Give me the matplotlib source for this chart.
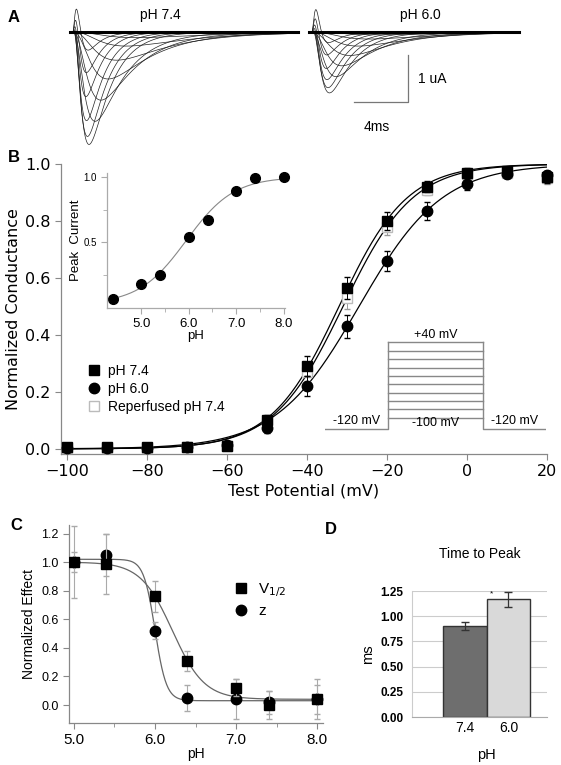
import numpy as np
import matplotlib.pyplot as plt
from matplotlib.lines import Line2D

plt.rcParams['font.family'] = ['Liberation Sans', 'DejaVu Sans']

# ---- A: current traces (model parameters)
amp74 = [0.12, 0.3, 0.6, 1.0, 1.45, 1.9, 2.4, 2.25, 1.95, 1.5, 1.05, 0.6]
tm74 = [2.2, 1.8, 1.45, 1.15, 0.9, 0.7, 0.5, 0.44, 0.4, 0.36, 0.33, 0.3]
th74 = [5.5, 4.8, 4.0, 3.3, 2.7, 2.2, 1.6, 1.45, 1.3, 1.15, 1.05, 0.95]
spike74 = [0, 0, 0, 0, 0, 0, 0.08, 0.18, 0.3, 0.45, 0.62, 0.8]
amp60 = [0.06, 0.15, 0.3, 0.5, 0.72, 0.95, 1.3, 1.2, 1.05, 0.85, 0.6, 0.35]
tm60 = [2.4, 2.0, 1.6, 1.3, 1.0, 0.8, 0.55, 0.5, 0.45, 0.4, 0.36, 0.33]
th60 = [5.5, 4.8, 4.0, 3.3, 2.7, 2.2, 1.7, 1.5, 1.35, 1.2, 1.1, 1.0]
spike60 = [0, 0, 0, 0, 0, 0, 0.06, 0.14, 0.24, 0.36, 0.5, 0.65]

# ---- B: normalized conductance vs test potential
volts = [-100, -90, -80, -70, -60, -50, -40, -30, -20, -10, 0, 10, 20]
g74 = [0.005, 0.005, 0.005, 0.008, 0.01, 0.10, 0.29, 0.565, 0.80, 0.92, 0.97, 0.975, 0.955]
g74_err = [0.004, 0.004, 0.004, 0.004, 0.008, 0.02, 0.035, 0.04, 0.03, 0.02, 0.015, 0.015, 0.02]
g60 = [0.003, 0.003, 0.003, 0.005, 0.015, 0.075, 0.22, 0.43, 0.66, 0.835, 0.93, 0.965, 0.96]
g60_err = [0.004, 0.004, 0.004, 0.004, 0.01, 0.02, 0.035, 0.04, 0.035, 0.03, 0.02, 0.015, 0.015]
grep = [0.004, 0.004, 0.004, 0.006, 0.01, 0.09, 0.27, 0.53, 0.78, 0.91, 0.965, 0.97, 0.95]
grep_err = [0.004, 0.004, 0.004, 0.004, 0.008, 0.02, 0.03, 0.04, 0.03, 0.02, 0.015, 0.015, 0.02]
# Boltzmann fits (V1/2, slope)
fit74 = (-32.0, 8.5)
fit60 = (-27.0, 10.4)
fitrep = (-31.0, 8.7)

# inset: peak current vs pH
ph_in = [4.4, 5.0, 5.4, 6.0, 6.4, 7.0, 7.4, 8.0]
peak_in = [0.07, 0.18, 0.25, 0.545, 0.67, 0.89, 0.99, 1.0]
fit_in = (5.95, 0.5, 0.03)  # pKa, slope, bottom

# voltage protocol
prot_steps = [-100, -84, -69, -53, -38, -22, -7, 9, 24, 40]

# ---- C: normalized effect vs pH
ph_c = [5.0, 5.4, 6.0, 6.4, 7.0, 7.4, 8.0]
v12 = [1.0, 0.99, 0.76, 0.31, 0.12, 0.0, 0.04]
v12_err = [0.25, 0.21, 0.11, 0.07, 0.06, 0.10, 0.14]
zval = [1.0, 1.05, 0.52, 0.05, 0.04, 0.02, 0.04]
z_err = [0.07, 0.15, 0.06, 0.09, 0.14, 0.08, 0.10]
fit_v12 = (6.215, 0.196, 1.0, 0.04)  # pK, slope, top, bottom
fit_z = (6.0, 0.07, 1.02, 0.03)

# ---- D: time to peak
ph_d = ['7.4', '6.0']
ttp = [0.90, 1.17]
ttp_err = [0.04, 0.075]

W, H = 561, 765
fig = plt.figure(figsize=(W / 100, H / 100), dpi=100)


def px_axes(l, t, r, b):
    return fig.add_axes([l / W, 1 - b / H, (r - l) / W, (b - t) / H])


def gray_spines(ax, col='#888888'):
    for s in ['top', 'right']:
        ax.spines[s].set_visible(False)
    for s in ['left', 'bottom']:
        ax.spines[s].set_color(col)
        ax.spines[s].set_linewidth(0.9)
    ax.tick_params(color=col, direction='out', length=4, width=0.8)


# ================= A
axA = px_axes(60, 0, 548, 150)
axA.set_xlim(0, 36.15)
axA.set_ylim(-2.51, 0.68)
axA.axis('off')


def draw_family(ax, t0, dur, amps, tms, ths, spikes):
    t = np.linspace(0, dur, 900)
    for a, tm, th, s in zip(amps, tms, ths, spikes):
        g = (1 - np.exp(-t / tm)) ** 3 * np.exp(-t / th)
        i = -a * g / g.max() + s * (t / 0.35) ** 2 * np.exp(2 * (1 - t / 0.35))
        ax.plot(t0 + t, i, color='#222222', lw=0.5)
    ax.plot([t0 - 0.2, t0 + dur], [0, 0], color='black', lw=2.2)


draw_family(axA, 0.96, 16.7, amp74, tm74, th74, spike74)
draw_family(axA, 18.67, 15.3, amp60, tm60, th60, spike60)
axA.plot([21.78, 25.78, 25.78], [-1.49, -1.49, -0.49], color='#777777', lw=0.9)
axA.text(26.5, -1.0, '1 uA', fontsize=10, va='center')
axA.text(23.5, -2.02, '4ms', fontsize=10, ha='center', va='center')
axA.text(7.4, 0.36, 'pH 7.4', fontsize=10, ha='center', va='center')
axA.text(26.7, 0.36, 'pH 6.0', fontsize=10, ha='center', va='center')
fig.text(8 / W, 1 - 18 / H, 'A', fontsize=12, fontweight='bold', va='center')

# ================= B
axB = px_axes(61, 164, 547, 454)
gray_spines(axB)
axB.set_xlim(-101.5, 20)
axB.set_ylim(-0.018, 1.0)
vv = np.linspace(-100, 20, 300)
for v50, k in [fit74, fitrep, fit60]:
    axB.plot(vv, 1 / (1 + np.exp(-(vv - v50) / k)), color='black', lw=0.9)
axB.errorbar(volts, grep, yerr=grep_err, fmt='s', ms=7, mfc='white', mec='#bbbbbb',
             ecolor='#999999', elinewidth=0.7, capsize=2, clip_on=False, zorder=3)
axB.errorbar(volts, g60, yerr=g60_err, fmt='o', ms=7.5, color='black',
             elinewidth=0.7, capsize=2, clip_on=False, zorder=4)
axB.errorbar(volts, g74, yerr=g74_err, fmt='s', ms=7, color='black',
             elinewidth=0.7, capsize=2, clip_on=False, zorder=5)
axB.set_xticks([-100, -80, -60, -40, -20, 0, 20])
axB.set_yticks([0.0, 0.2, 0.4, 0.6, 0.8, 1.0])
axB.set_yticklabels(['0.0', '0.2', '0.4', '0.6', '0.8', '1.0'])
for lab in axB.get_xticklabels() + axB.get_yticklabels():
    lab.set_family('DejaVu Sans')
    lab.set_fontsize(11.5)
axB.set_xlabel('Test Potential (mV)', fontsize=11.5, family='DejaVu Sans', labelpad=3)
axB.set_ylabel('Normalized Conductance', fontsize=11.5, family='DejaVu Sans', labelpad=3)
handles = [Line2D([], [], ls='none', marker='s', ms=7, color='black'),
           Line2D([], [], ls='none', marker='o', ms=7.5, color='black'),
           Line2D([], [], ls='none', marker='s', ms=7, mfc='white', mec='#bbbbbb')]
axB.legend(handles, ['pH 7.4', 'pH 6.0', 'Reperfused pH 7.4'], loc='upper left',
           bbox_to_anchor=(80 / W, 1 - 357 / H), bbox_transform=fig.transFigure,
           frameon=False, fontsize=10, handletextpad=0.5, labelspacing=0.3,
           handlelength=1.0, borderpad=0)
fig.text(8 / W, 1 - 158 / H, 'B', fontsize=12, fontweight='bold', va='center')

# inset
axI = px_axes(107, 173, 285, 308)
gray_spines(axI, '#aaaaaa')
axI.set_xlim(4.28, 8.03)
axI.set_ylim(0.0, 1.03)
pk, sl, bot = fit_in
pp = np.linspace(4.4, 8.05, 200)
axI.plot(pp, bot + (1 - bot) / (1 + np.exp(-(pp - pk) / sl)), color='#888888', lw=0.8)
axI.plot(ph_in, peak_in, 'o', color='black', ms=7, clip_on=False)
axI.set_xticks([5, 6, 7, 8])
axI.set_xticklabels(['5.0', '6.0', '7.0', '8.0'], fontsize=9.5)
axI.set_xticks([5.5, 6.5, 7.5], minor=True)
axI.set_yticks([0.5, 1.0])
axI.set_yticklabels(['0.5', '1.0'], fontsize=7)
axI.set_yticks([0.25, 0.75], minor=True)
axI.tick_params(which='minor', color='#aaaaaa', length=3)
axI.set_xlabel('pH', fontsize=9.5, labelpad=0)
axI.set_ylabel('Peak  Current', fontsize=9.5, labelpad=1)

# voltage protocol
axP = px_axes(325, 336, 546, 432)
axP.set_xlim(0, 35)
axP.set_ylim(-125.5, 51)
axP.axis('off')
pc = '#888888'
axP.plot([0, 10, 10], [-120, -120, 40], color=pc, lw=1)
axP.plot([25, 25, 35], [40, -120, -120], color=pc, lw=1)
for lev in prot_steps:
    axP.plot([10, 25], [lev, lev], color=pc, lw=1)
axP.text(17.5, 42, '+40 mV', fontsize=9, ha='center', va='bottom')
axP.text(5, -117, '-120 mV', fontsize=9, ha='center', va='bottom')
axP.text(30, -117, '-120 mV', fontsize=9, ha='center', va='bottom')
axP.text(17.5, -109, '-100 mV', fontsize=9, ha='center', va='center')

# ================= C
axC = px_axes(69, 525, 323, 723)
gray_spines(axC)
axC.set_xlim(4.94, 8.07)
axC.set_ylim(-0.126, 1.26)
pp = np.linspace(5.0, 8.0, 300)
for pk, sl, top, bot in [fit_v12, fit_z]:
    axC.plot(pp, bot + (top - bot) / (1 + np.exp((pp - pk) / sl)), color='#666666', lw=0.9)
axC.errorbar(ph_c, zval, yerr=z_err, fmt='o', ms=7.5, color='black', ecolor='#aaaaaa',
             elinewidth=0.8, capsize=2, zorder=3)
axC.errorbar(ph_c, v12, yerr=v12_err, fmt='s', ms=7.5, color='black', ecolor='#aaaaaa',
             elinewidth=0.8, capsize=2, zorder=4)
axC.set_xticks([5, 6, 7, 8])
axC.set_xticklabels(['5.0', '6.0', '7.0', '8.0'], fontsize=11)
axC.set_xticks([5.5, 6.5, 7.5], minor=True)
axC.tick_params(which='minor', color='#888888', length=3)
axC.set_yticks([0.0, 0.2, 0.4, 0.6, 0.8, 1.0, 1.2])
axC.set_yticklabels(['0.0', '0.2', '0.4', '0.6', '0.8', '1.0', '1.2'], fontsize=9)
axC.set_xlabel('pH', fontsize=10, labelpad=0)
axC.set_ylabel('Normalized Effect', fontsize=10, labelpad=4)
handles = [Line2D([], [], ls='none', marker='s', ms=7.5, color='black'),
           Line2D([], [], ls='none', marker='o', ms=7.5, color='black')]
axC.legend(handles, ['V$_{1/2}$', 'z'], loc='upper left',
           bbox_to_anchor=(226 / W, 1 - 573 / H), bbox_transform=fig.transFigure,
           frameon=False, fontsize=11, handletextpad=0.6, labelspacing=0.35,
           handlelength=1.0, borderpad=0)
fig.text(10 / W, 1 - 525 / H, 'C', fontsize=12, fontweight='bold', va='center')

# ================= D
axD = px_axes(412, 591, 547, 717)
axD.set_ylim(0, 1.25)
axD.set_xlim(-1.218, 1.885)
axD.set_yticks([0.0, 0.25, 0.5, 0.75, 1.0, 1.25])
axD.set_yticklabels(['0.00', '0.25', '0.50', '0.75', '1.00', '1.25'], fontsize=8.5,
                    fontweight='bold')
axD.grid(axis='y', color='#cccccc', lw=0.8)
axD.set_axisbelow(True)
for s in ['top', 'right']:
    axD.spines[s].set_visible(False)
axD.spines['left'].set_color('#cccccc')
axD.spines['bottom'].set_color('#aaaaaa')
axD.tick_params(axis='y', length=0, pad=6)
axD.tick_params(axis='x', length=0, pad=3)
axD.bar([0, 1], ttp, width=1.0, color=['#6e6e6e', '#d9d9d9'], edgecolor='#333333', lw=1)
axD.errorbar([0, 1], ttp, yerr=ttp_err, fmt='none', ecolor='#333333', elinewidth=0.9,
             capsize=3)
axD.set_xticks([0, 1])
axD.set_xticklabels(ph_d, fontsize=10)
axD.text(0.6, ttp[1] + 0.05, '*', fontsize=6, ha='center', va='center')
axD.set_title('Time to Peak', fontsize=10, pad=24)
axD.set_xlabel('pH', fontsize=10.5)
axD.xaxis.set_label_coords(0.55, -0.25)
axD.set_ylabel('ms', fontsize=10.5, labelpad=4)
fig.text(325 / W, 1 - 530 / H, 'D', fontsize=12, fontweight='bold', va='center')

fig.savefig('out.png', dpi=100)
